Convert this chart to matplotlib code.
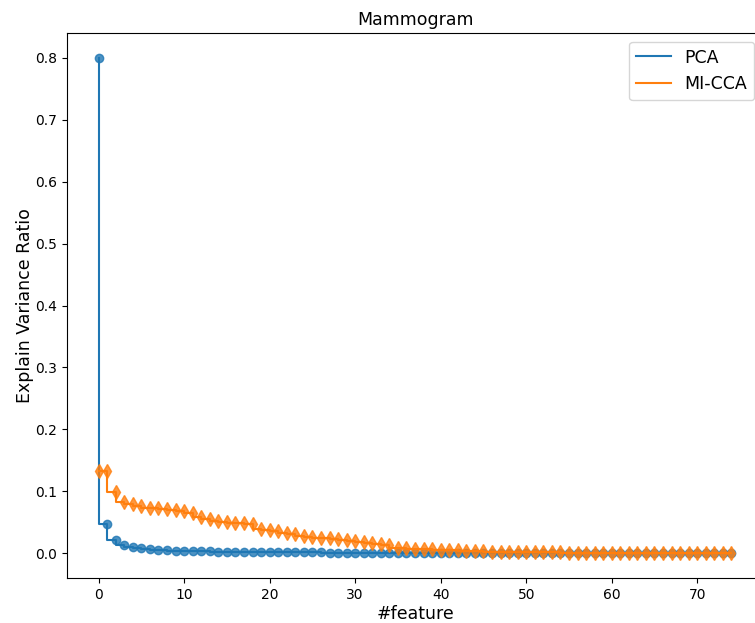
import matplotlib.pyplot as plt
import numpy as np

# explained variance ratio per feature
pca = [0.800, 0.048, 0.021, 0.014, 0.011, 0.008, 0.0065, 0.0055, 0.005, 0.0045,
       0.004, 0.0037, 0.0034, 0.0031, 0.0029, 0.0027, 0.0025, 0.0023, 0.0022, 0.0021,
       0.002, 0.0019, 0.0018, 0.0017, 0.0016, 0.0015, 0.0014, 0.0013, 0.0013, 0.0012,
       0.0012, 0.0011, 0.0011, 0.001, 0.001, 0.001, 0.0009, 0.0009, 0.0009, 0.0008,
       0.0008, 0.0008, 0.0008, 0.0007, 0.0007, 0.0007, 0.0007, 0.0006, 0.0006, 0.0006,
       0.0006, 0.0006, 0.0005, 0.0005, 0.0005, 0.0005, 0.0005, 0.0005, 0.0004, 0.0004,
       0.0004, 0.0004, 0.0004, 0.0004, 0.0004, 0.0003, 0.0003, 0.0003, 0.0003, 0.0003,
       0.0003, 0.0003, 0.0003, 0.0002, 0.0002]
micca = [0.133, 0.133, 0.099, 0.083, 0.079, 0.077, 0.074, 0.0726, 0.071, 0.070,
         0.0688, 0.0645, 0.0586, 0.0548, 0.0522, 0.0505, 0.0495, 0.0484, 0.0473, 0.0387,
         0.0376, 0.036, 0.0333, 0.0306, 0.028, 0.026, 0.025, 0.024, 0.023, 0.022,
         0.020, 0.019, 0.017, 0.015, 0.014, 0.0085, 0.008, 0.0075, 0.007, 0.0065,
         0.006, 0.0055, 0.005, 0.0045, 0.004, 0.0035, 0.003, 0.0027, 0.0024, 0.0021,
         0.0019, 0.0017, 0.0016, 0.0015, 0.0014, 0.0013, 0.0012, 0.0011, 0.0011, 0.001,
         0.001, 0.0009, 0.0009, 0.0008, 0.0008, 0.0008, 0.0007, 0.0007, 0.0007, 0.0006,
         0.0006, 0.0006, 0.0005, 0.0005, 0.0005]
features = np.arange(len(pca))

fig = plt.figure(figsize=(7.55, 6.23), dpi=100)
ax = fig.add_axes([0.0887, 0.0722, 0.922, 0.875])

# step lines carry the legend, markers drawn separately
ax.step(features, pca, where='pre', color='#1f77b4', label='PCA')
ax.plot(features, pca, 'o', color='#1f77b4', markersize=6, alpha=0.8)
ax.step(features, micca, where='pre', color='#ff7f0e', label='MI-CCA')
ax.plot(features, micca, 'd', color='#ff7f0e', markersize=7, alpha=0.8)

ax.set_title('Mammogram', fontsize=12.5)
ax.set_xlabel('#feature', fontsize=12.5, labelpad=2)
ax.set_ylabel('Explain Variance Ratio', fontsize=12.5, labelpad=1)
ax.legend(loc='upper right', fontsize=12.5)

fig.savefig('out.png', dpi=100)
